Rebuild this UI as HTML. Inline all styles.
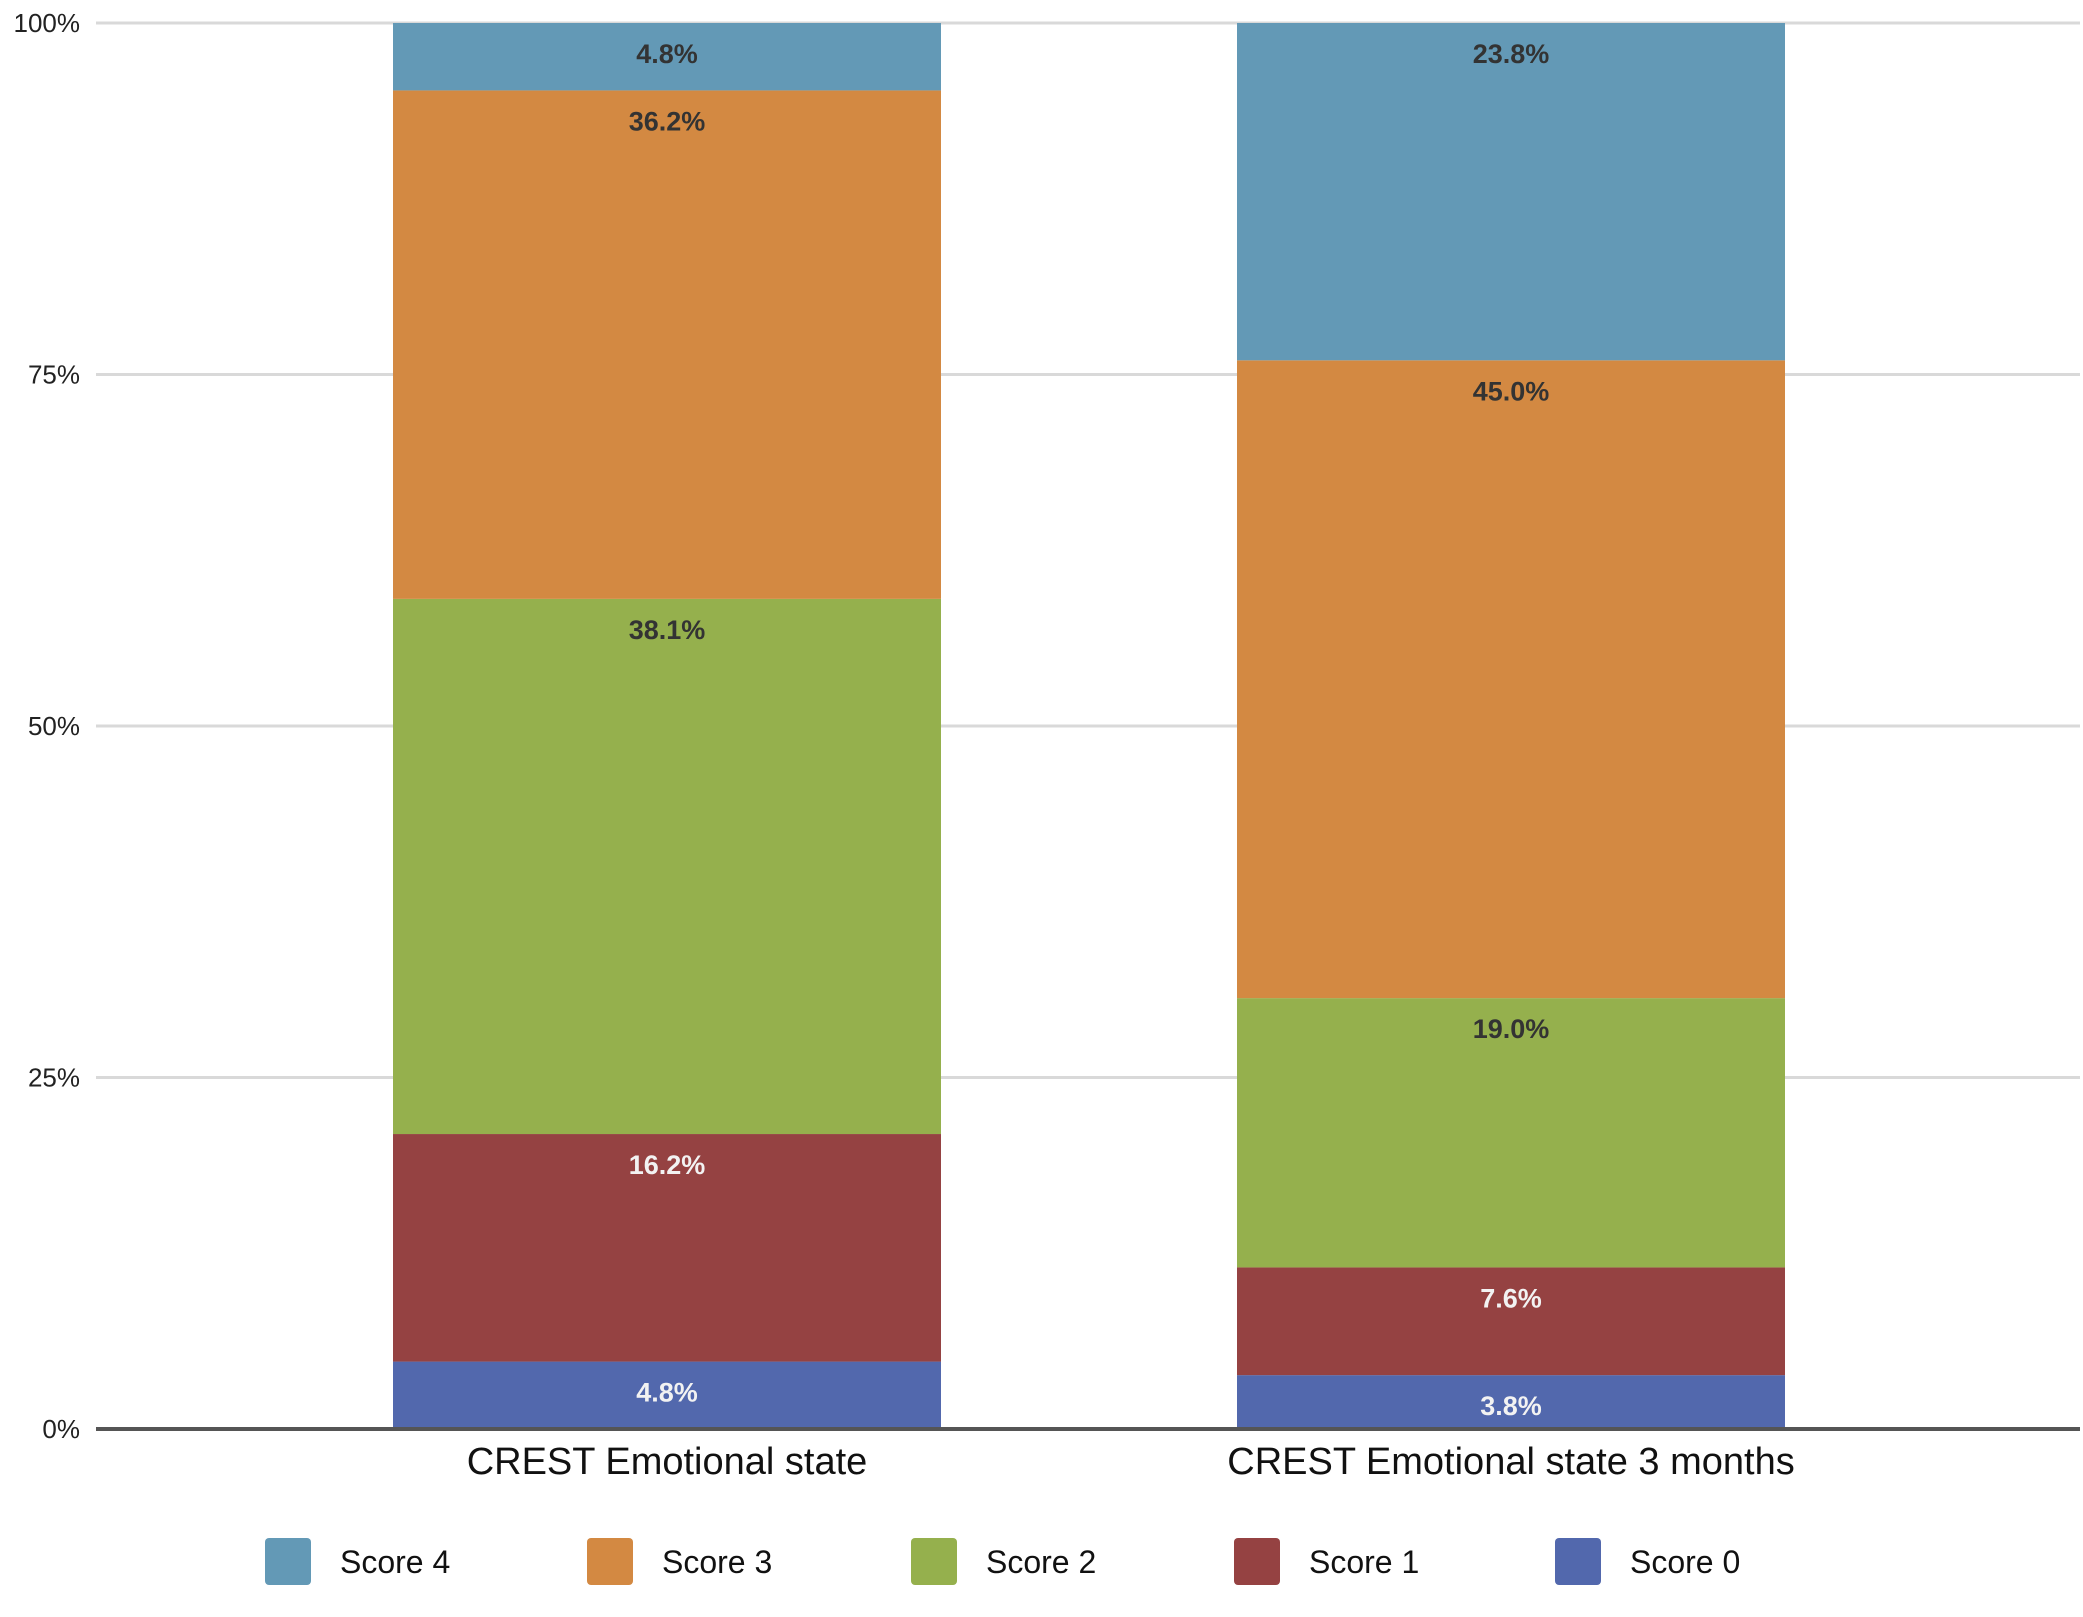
<!DOCTYPE html>
<html><head><meta charset="utf-8"><style>
body{margin:0;background:#fff;}
svg{display:block;font-family:"Liberation Sans",sans-serif;}
</style></head><body>
<svg id="chart" width="2083" height="1617" viewBox="0 0 2083 1617"></svg>
<script>
const categories = ["CREST Emotional state", "CREST Emotional state 3 months"];
const seriesNames = ["Score 0", "Score 1", "Score 2", "Score 3", "Score 4"];
const score0 = [4.8, 3.8];
const score1 = [16.2, 7.6];
const score2 = [38.1, 19.0];
const score3 = [36.2, 45.0];
const score4 = [4.8, 23.8];
const tickValues = [0, 25, 50, 75, 100];
const tickLabels = ["0%", "25%", "50%", "75%", "100%"];

const series = [score0, score1, score2, score3, score4];
const colors = ["#5268ad", "#954242", "#95b04d", "#d38942", "#6399b6"];
const labelColors = ["#f2f2f2", "#f2f2f2", "#333", "#333", "#333"];
const NS = "http://www.w3.org/2000/svg";
const svg = document.getElementById("chart");
const plotL = 96, plotR = 2080, yTop = 23, yBot = 1429;
const barCenters = [667, 1511], barW = 548;
function y(v){ return yBot - (v/100)*(yBot - yTop); }
function mk(tag, attrs){ const e = document.createElementNS(NS, tag); for (const k in attrs) e.setAttribute(k, attrs[k]); svg.appendChild(e); return e; }

tickValues.forEach((t, i) => {
  if (t > 0) {
    const g = mk("line", {x1: plotL, x2: plotR, y1: y(t), y2: y(t), stroke: "#d9d9d9", "stroke-width": 3});
    
    
  }
  const tl = mk("text", {x: 80, y: y(t) + 9, "text-anchor": "end", "font-size": 26, fill: "#222"});
  tl.textContent = tickLabels[i];
  
  
});

categories.forEach((c, ci) => {
  let total = 0; series.forEach(s => total += s[ci]);
  let cum = 0;
  series.forEach((s, si) => {
    const v = s[ci] / total * 100;
    const top = y(cum + v), bot = y(cum);
    const r = mk("rect", {x: barCenters[ci] - barW/2, y: top, width: barW, height: bot - top, fill: colors[si]});
    
    
    const t = mk("text", {x: barCenters[ci], y: top + 40, "text-anchor": "middle", "font-size": 27, "font-weight": "bold", fill: labelColors[si]});
    t.textContent = s[ci].toFixed(1) + "%";
    
    
    cum += v;
  });
  const cl = mk("text", {x: barCenters[ci], y: 1474, "text-anchor": "middle", "font-size": 38, fill: "#111"});
  cl.textContent = c;
  
  
});

const axis = mk("line", {x1: plotL, x2: plotR, y1: yBot, y2: yBot, stroke: "#555", "stroke-width": 4});



const legX = [265, 587, 911, 1234, 1555];
const legOrder = [4, 3, 2, 1, 0];
legOrder.forEach((si, i) => {
  const sw = mk("rect", {x: legX[i], y: 1538, width: 46, height: 47, rx: 4, fill: colors[si]});
  
  
  const lt = mk("text", {x: legX[i] + 75, y: 1573, "font-size": 32, fill: "#111"});
  lt.textContent = seriesNames[si];
  
  
});
</script>
</body></html>
